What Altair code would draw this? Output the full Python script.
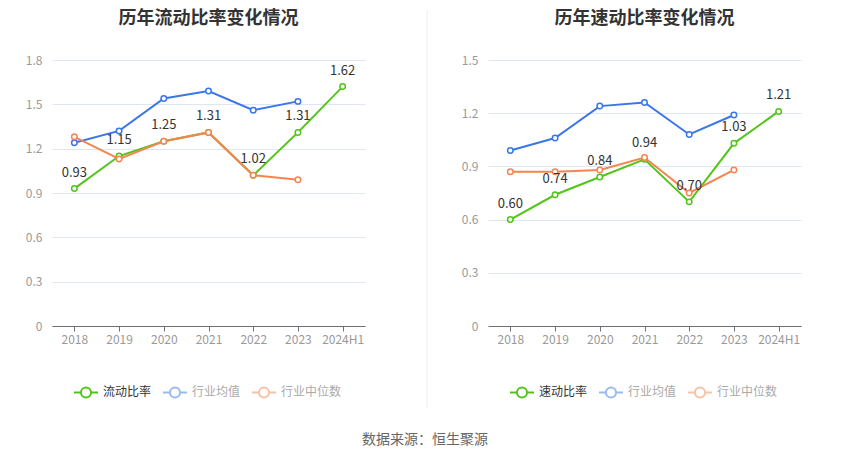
import altair as alt
import pandas as pd

years = ["2018", "2019", "2020", "2021", "2022", "2023", "2024H1"]
current_ratio = [0.93, 1.15, 1.25, 1.31, 1.02, 1.31, 1.62]
current_avg = [1.24, 1.32, 1.54, 1.59, 1.46, 1.52, None]
current_med = [1.28, 1.13, 1.25, 1.31, 1.02, 0.99, None]
quick_ratio = [0.60, 0.74, 0.84, 0.94, 0.70, 1.03, 1.21]
quick_avg = [0.99, 1.06, 1.24, 1.26, 1.08, 1.19, None]
quick_med = [0.87, 0.87, 0.88, 0.95, 0.75, 0.88, None]
left_ticks = [0, 0.3, 0.6, 0.9, 1.2, 1.5, 1.8]
right_ticks = [0, 0.3, 0.6, 0.9, 1.2, 1.5]

GREEN = "#52c41a"
BLUE = "#3a76e8"
ORANGE = "#f5854f"
FONT = "Noto Sans CJK SC"
W, H = 313, 266
SYMBOL = "M-1,0L-0.42,0M0.42,0L1,0M-0.42,0A0.42,0.42 0 1,1 0.42,0A0.42,0.42 0 1,1 -0.42,0Z"


def panel(title, main_name, vals, avg, med, ymax, ticks):
    names = [main_name, "行业均值", "行业中位数"]
    rows = []
    for name, series in zip(names, [vals, avg, med]):
        for yr, v in zip(years, series):
            if v is not None:
                rows.append({"year": yr, "series": name, "value": v})
    df = pd.DataFrame(rows)
    base = alt.Chart(df)
    x = alt.X("year:N", sort=years,
              scale=alt.Scale(type="point", domain=years, padding=0.5),
              axis=alt.Axis(title=None, labelAngle=0, labelColor="#999999", labelFontSize=12,
                            labelFont=FONT, domainColor="#6e7079", tickColor="#6e7079",
                            tickSize=5, labelPadding=3, grid=False))
    y = alt.Y("value:Q", scale=alt.Scale(domain=[0, ymax], nice=False, zero=True),
              axis=alt.Axis(title=None, values=ticks, format="~g", labelColor="#999999",
                            labelFontSize=12, labelFont=FONT, domain=False, ticks=False,
                            gridColor="#e0e6f1", labelPadding=10, minExtent=39, maxExtent=39))
    color = alt.Color("series:N", scale=alt.Scale(domain=names, range=[GREEN, BLUE, ORANGE]),
                      legend=alt.Legend(title=None, orient="none", legendX=21, legendY=319,
                                        direction="horizontal", columns=3,
                                        symbolType=SYMBOL, symbolSize=576, symbolStrokeWidth=2,
                                        symbolFillColor="white",
                                        symbolOpacity={"expr": "datum.index === 0 ? 1 : 0.5"},
                                        labelColor={"expr": "datum.index === 0 ? '#333333' : '#aaaaaa'"},
                                        labelFont=FONT, labelFontSize=12, labelOffset=4,
                                        columnPadding=7))
    layers = []
    for name in names:
        sub = base.transform_filter(alt.datum.series == name)
        layers.append(sub.mark_line(strokeWidth=2).encode(x=x, y=y, color=color))
        layers.append(sub.mark_point(shape="circle", filled=False, fill="white", fillOpacity=1,
                                     opacity=1, size=30, strokeWidth=1.5).encode(x=x, y=y, color=color))
    labels = base.transform_filter(alt.datum.series == main_name).mark_text(
        dy=-9, baseline="bottom", fontSize=13, font=FONT, color="#333333"
    ).encode(x=x, y=y, text=alt.Text("value:Q", format=".2f"))
    layers.append(labels)
    return alt.layer(*layers).properties(
        width=W, height=H,
        title=alt.TitleParams(title, fontSize=18, fontWeight="bold", color="#333333", font=FONT,
                              anchor="middle", offset=26)
    )


left = panel("历年流动比率变化情况", "流动比率", current_ratio, current_avg, current_med, 1.8, left_ticks)
right = panel("历年速动比率变化情况", "速动比率", quick_ratio, quick_avg, quick_med, 1.5, right_ticks)

divider = alt.Chart(alt.Data(values=[{"a": 1}])).mark_rule(color="#eeeeee", strokeWidth=1).encode(
    x=alt.value(42), y=alt.value(-50), y2=alt.value(348)
).properties(width=44, height=H)

chart = alt.hconcat(left, divider, right, spacing=20).resolve_scale(
    color="independent", x="independent", y="independent"
).resolve_legend(color="independent").properties(
    title=alt.TitleParams("数据来源：恒生聚源", orient="bottom", anchor="middle", fontSize=14,
                          fontWeight="normal", color="#666666", font=FONT, offset=24, dx=18),
    padding={"left": 5, "top": 1, "right": 5, "bottom": 5},
    background="white",
).configure_view(stroke=None)

chart.save("out.html", embed_options={"renderer": "svg", "actions": False})
